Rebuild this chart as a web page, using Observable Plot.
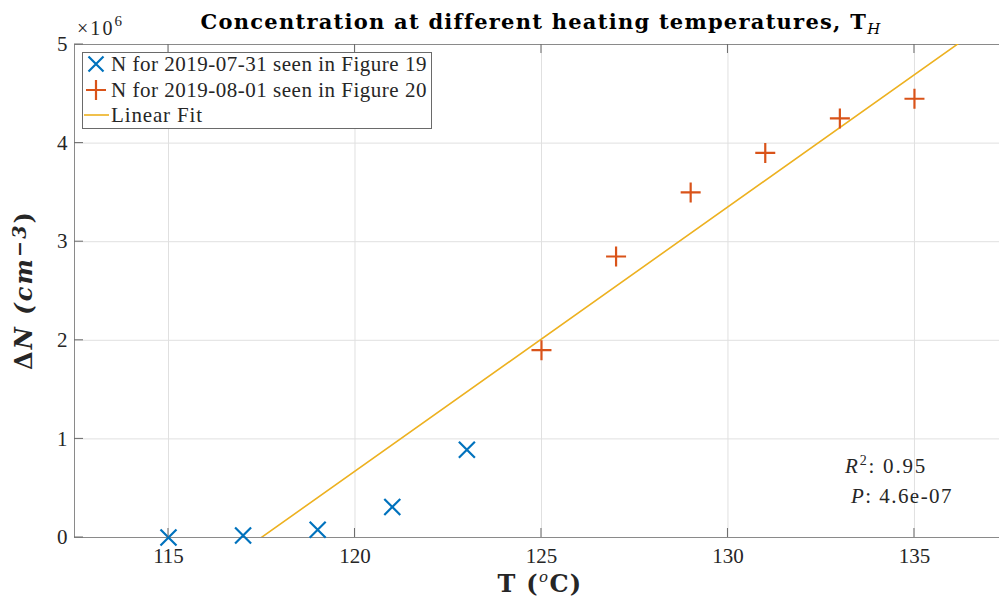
<!DOCTYPE html>
<html><head><meta charset="utf-8">
<script src="https://cdn.jsdelivr.net/npm/d3@7"></script>
<script src="https://cdn.jsdelivr.net/npm/@observablehq/plot@0.6"></script>
<style>
body{margin:0;background:#fff;}
svg{display:block}
svg, svg text { font-family: "Liberation Serif", "DejaVu Serif", serif; }
svg text.bold { font-family: "DejaVu Serif", "Liberation Serif", serif; }
</style>
</head><body><div id="chart"></div>
<script>
// ---- data (ΔN in units of 10^6 cm^-3) ----
const tempsA = [115, 117, 119, 121, 123];
const nA = [0.0, 0.02, 0.078, 0.31, 0.89];
const tempsB = [125, 127, 129, 131, 133, 135];
const nB = [1.9, 2.85, 3.5, 3.9, 4.25, 4.45];
const xTicks = [115, 120, 125, 130, 135];
const yTicks = [0, 1, 2, 3, 4, 5];
const xDomain = [112.48, 137.28];
const yDomain = [0, 5];
const legendLabels = ["N for 2019-07-31 seen in Figure 19", "N for 2019-08-01 seen in Figure 20", "Linear Fit"];
const titleText = "Concentration at different heating temperatures, T";
const r2Value = "0.95";
const pValue = "4.6e-07";

const colA = "#0072BD", colB = "#D95319", colFit = "#EDB120";
const FONT = "'Liberation Serif', 'DejaVu Serif', serif";
const BFONT = "'DejaVu Serif', 'Liberation Serif', serif";

const ptsA = tempsA.map((t, i) => ({x: t, y: nA[i]}));
const ptsB = tempsB.map((t, i) => ({x: t, y: nB[i]}));
const all = ptsA.concat(ptsB);
const mx = d3.mean(all, d => d.x), my = d3.mean(all, d => d.y);
const slope = d3.sum(all, d => (d.x - mx) * (d.y - my)) / d3.sum(all, d => (d.x - mx) ** 2);
const icpt = my - slope * mx;
const fitLine = xDomain.map(x => ({x, y: icpt + slope * x}));

const timesSym = {draw(ctx, size) { const r = Math.sqrt(size / Math.PI); ctx.moveTo(-r, -r); ctx.lineTo(r, r); ctx.moveTo(-r, r); ctx.lineTo(r, -r); }};
const plusSym = {draw(ctx, size) { const r = Math.sqrt(size / Math.PI); ctx.moveTo(-r, 0); ctx.lineTo(r, 0); ctx.moveTo(0, -r); ctx.lineTo(0, r); }};

const plot = Plot.plot({
  width: 999, height: 600,
  marginLeft: 74, marginRight: 0, marginTop: 44, marginBottom: 63,
  style: {fontFamily: FONT, fontSize: "21px", color: "#262626", background: "white", overflow: "visible"},
  x: {domain: xDomain},
  y: {domain: yDomain},
  marks: [
    Plot.gridX(xTicks, {stroke: "#e0e0e0", strokeOpacity: 1}),
    Plot.gridY(yTicks, {stroke: "#e0e0e0", strokeOpacity: 1}),
    Plot.axisX(xTicks, {tickSize: 0, tickPadding: 11, label: null}),
    Plot.axisY(yTicks, {tickSize: 0, tickPadding: 7, label: null, tickFormat: d3.format("d")}),
    Plot.ruleY([yDomain[0], yDomain[1]], {stroke: "#8a8a8a"}),
    Plot.ruleX([xDomain[0]], {stroke: "#8a8a8a"}),
    Plot.line(fitLine, {x: "x", y: "y", stroke: colFit, strokeWidth: 1.6, clip: true}),
    Plot.dot(ptsA, {x: "x", y: "y", symbol: timesSym, r: 8, stroke: colA, fill: "none", strokeWidth: 2.2}),
    Plot.dot(ptsB, {x: "x", y: "y", symbol: plusSym, r: 10, stroke: colB, fill: "none", strokeWidth: 2.2})
  ]
});
document.getElementById("chart").appendChild(plot);

const svg = d3.select(plot).attr("font-family", FONT);
const sx = plot.scale("x"), sy = plot.scale("y");
const yTop = sy.apply(yDomain[1]), yBot = sy.apply(yDomain[0]), xLeft = sx.apply(xDomain[0]);
const g = svg.append("g").attr("stroke", "#6a6a6a").attr("stroke-width", 1);
xTicks.forEach(t => {
  const px = sx.apply(t);
  g.append("line").attr("x1", px).attr("x2", px).attr("y1", yBot).attr("y2", yBot - 9);
  g.append("line").attr("x1", px).attr("x2", px).attr("y1", yTop).attr("y2", yTop + 9);
});
yTicks.forEach(t => {
  const py = sy.apply(t);
  g.append("line").attr("x1", xLeft).attr("x2", xLeft + 9).attr("y1", py).attr("y2", py);
});

// stretch a text to the width it has in the reference (Computer Modern is wider than Times)
function fit(sel, target) {
  const n = sel.node();
  const w = n.getComputedTextLength();
  const k = n.textContent.length;
  if (k > 1) sel.attr("letter-spacing", ((target - w) / k).toFixed(2));
}
function txt(parent, bold) {
  return parent.append("text").attr("class", bold ? "bold" : null).attr("font-family", bold ? BFONT : FONT);
}

// title
const title = txt(svg, true).attr("x", 541).attr("y", 29).attr("text-anchor", "middle")
  .attr("font-size", 21).attr("font-weight", "bold").attr("fill", "#000");
title.append("tspan").text(titleText);
title.append("tspan").attr("font-style", "italic").attr("font-weight", "normal").attr("font-size", 15).attr("dy", 5).text("H");
fit(title, 680);

// exponent
const ex = txt(svg).attr("x", 77).attr("y", 35).attr("text-anchor", "start").attr("font-size", 20).attr("fill", "#262626");
ex.append("tspan").text("×10");
ex.append("tspan").attr("font-size", 15).attr("dy", -9).text("6");
fit(ex, 47);

// y label
const yl = txt(svg, true).attr("transform", "translate(32,290) rotate(-90)").attr("text-anchor", "middle")
  .attr("font-size", 24).attr("font-weight", "bold").attr("fill", "#262626");
yl.append("tspan").text("Δ");
yl.append("tspan").attr("font-style", "italic").text("N (cm");
yl.append("tspan").attr("font-style", "italic").attr("font-size", 19).attr("dy", -6).text("−3");
yl.append("tspan").attr("dy", 6).text(")");
fit(yl, 160);

// x label
const xl = txt(svg, true).attr("x", 540).attr("y", 592).attr("text-anchor", "middle")
  .attr("font-size", 24).attr("font-weight", "bold").attr("fill", "#262626");
xl.append("tspan").text("T (");
xl.append("tspan").attr("font-style", "italic").attr("font-weight", "normal").attr("font-size", 15).attr("dy", -10).text("o");
xl.append("tspan").attr("dy", 10).text("C)");
fit(xl, 85);

// stats annotation
const a1 = txt(svg).attr("x", 845).attr("y", 473).attr("text-anchor", "start").attr("font-size", 21).attr("fill", "#262626");
a1.append("tspan").attr("font-style", "italic").text("R");
a1.append("tspan").attr("font-size", 14).attr("dy", -8).text("2");
a1.append("tspan").attr("dy", 8).text(": " + r2Value);
fit(a1, 82);
const a2 = txt(svg).attr("x", 851).attr("y", 503).attr("text-anchor", "start").attr("font-size", 21).attr("fill", "#262626");
a2.append("tspan").attr("font-style", "italic").text("P");
a2.append("tspan").text(": " + pValue);
fit(a2, 102);

// legend
const lg = svg.append("g");
lg.append("rect").attr("x", 82.5).attr("y", 52.5).attr("width", 349).attr("height", 76)
  .attr("fill", "white").attr("stroke", "#6a6a6a").attr("stroke-width", 1);
const rows = [64, 90, 115];
const legendWidths = [316, 316, 92];
const lx = 96;
lg.append("path").attr("d", `M${lx-7.5},${rows[0]-7.5}L${lx+7.5},${rows[0]+7.5}M${lx-7.5},${rows[0]+7.5}L${lx+7.5},${rows[0]-7.5}`)
  .attr("stroke", colA).attr("stroke-width", 2.2).attr("fill", "none");
lg.append("path").attr("d", `M${lx-10},${rows[1]}L${lx+10},${rows[1]}M${lx},${rows[1]-10}L${lx},${rows[1]+10}`)
  .attr("stroke", colB).attr("stroke-width", 2.2).attr("fill", "none");
lg.append("line").attr("x1", 84).attr("x2", 109).attr("y1", rows[2]).attr("y2", rows[2])
  .attr("stroke", colFit).attr("stroke-width", 1.6);
legendLabels.forEach((s, i) => {
  const t = txt(lg).attr("x", 111).attr("y", rows[i] + 7).attr("text-anchor", "start")
    .attr("font-size", 21).attr("fill", "#262626").text(s);
  fit(t, legendWidths[i]);
});
</script>
</body></html>
